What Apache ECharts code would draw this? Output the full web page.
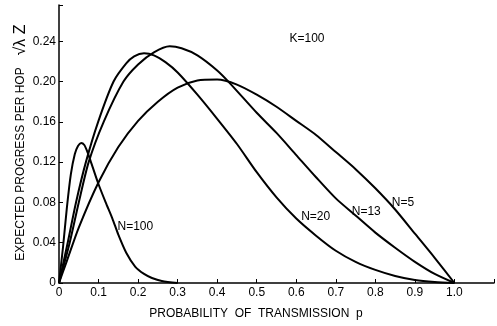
<!DOCTYPE html>
<html>
<head>
<meta charset="utf-8">
<script src="https://cdn.jsdelivr.net/npm/echarts@6/dist/echarts.min.js"></script>
<style>
  html, body { margin: 0; padding: 0; background: #fff; }
  #chart { width: 497px; height: 326px; }
</style>
</head>
<body>
<div id="chart"></div>
<script>
// values: [p, expected progress]
const curveN5 = [[0,0],[0.02,0.022],[0.05,0.055],[0.1,0.100],[0.15,0.135],[0.2,0.161],[0.25,0.180],[0.3,0.194],[0.35,0.201],[0.4,0.202],[0.45,0.197],[0.5,0.187],[0.55,0.175],[0.6,0.161],[0.65,0.147],[0.7,0.130],[0.75,0.113],[0.8,0.094],[0.85,0.073],[0.9,0.049],[0.95,0.025],[1.0,0]]
const curveN13 = [[0,0],[0.027,0.040],[0.05,0.080],[0.075,0.120],[0.113,0.160],[0.163,0.200],[0.2,0.217],[0.24,0.229],[0.28,0.235],[0.31,0.233],[0.35,0.226],[0.4,0.211],[0.433,0.198],[0.5,0.169],[0.55,0.149],[0.6,0.127],[0.65,0.105],[0.7,0.084],[0.75,0.067],[0.8,0.050],[0.85,0.035],[0.9,0.021],[0.95,0.009],[1.0,0]]
const curveN20 = [[0,0],[0.022,0.040],[0.043,0.080],[0.068,0.120],[0.099,0.160],[0.138,0.200],[0.17,0.218],[0.19,0.225],[0.215,0.228],[0.24,0.226],[0.27,0.219],[0.3,0.209],[0.35,0.187],[0.4,0.163],[0.45,0.138],[0.5,0.110],[0.55,0.085],[0.6,0.064],[0.65,0.047],[0.7,0.032],[0.75,0.021],[0.8,0.013],[0.85,0.007],[0.9,0.003],[0.95,0.001],[1.0,0]]
const curveN100 = [[0,0],[0.01,0.035],[0.02,0.075],[0.03,0.108],[0.04,0.128],[0.048,0.136],[0.056,0.139],[0.064,0.137],[0.072,0.130],[0.08,0.121],[0.099,0.099],[0.118,0.080],[0.135,0.064],[0.15,0.048],[0.17,0.030],[0.193,0.016],[0.215,0.009],[0.235,0.005],[0.26,0.002],[0.3,0]]
const xTicks = [0, 0.1, 0.2, 0.3, 0.4, 0.5, 0.6, 0.7, 0.8, 0.9, 1.0]
const yTicks = [0, 0.04, 0.08, 0.12, 0.16, 0.20, 0.24]
const curveNames = ['N=5', 'N=13', 'N=20', 'N=100']
const labelAt = [[0.870, 0.080], [0.777, 0.071], [0.649, 0.066], [0.193, 0.056]]

const font = 'Liberation Sans'
const chart = echarts.init(document.getElementById('chart'))

const near = (v, list) => list.some(t => Math.abs(t - v) < 1e-6)

const makeSeries = (data, i) => ({
  name: curveNames[i],
  type: 'line',
  data: data,
  smooth: 0.25,
  showSymbol: false,
  lineStyle: { color: '#000', width: 2 },
  z: 3,
  markPoint: {
    symbolSize: 0,
    silent: true,
    label: {
      show: true,
      position: 'inside',
      color: '#000',
      fontFamily: font,
      fontSize: 12,
      formatter: curveNames[i],
    },
    data: [{ coord: labelAt[i] }],
  },
})

const option = {
  animation: false,
  grid: { left: 59, right: 0, top: 5, bottom: 43 },
  xAxis: {
    type: 'value',
    min: 0,
    max: 1.1,
    interval: 0.1,
    splitLine: { show: false },
    axisLine: { lineStyle: { color: '#000', width: 1.5 } },
    axisTick: { inside: true, length: 4, lineStyle: { color: '#000' } },
    axisLabel: {
      color: '#000',
      fontFamily: font,
      fontSize: 12,
      margin: 4,
      formatter: v => near(v, xTicks) ? (v === 0 ? '0' : v.toFixed(1)) : '',
    },
    name: 'PROBABILITY  OF  TRANSMISSION  p',
    nameLocation: 'middle',
    nameGap: 25,
    nameTextStyle: { color: '#000', fontFamily: font, fontSize: 12, padding: [0, 0, 0, -41] },
  },
  yAxis: {
    type: 'value',
    min: 0,
    max: 0.276,
    interval: 0.04,
    splitLine: { show: false },
    axisLine: { lineStyle: { color: '#000', width: 1.5 } },
    axisTick: { inside: true, length: 4, lineStyle: { color: '#000' } },
    axisLabel: {
      color: '#000',
      fontFamily: font,
      fontSize: 12,
      margin: 3,
      formatter: v => near(v, yTicks) ? (v === 0 ? '0' : v.toFixed(2)) : '',
    },
  },
  graphic: [
    {
      type: 'text',
      x: 21, y: 164,
      rotation: Math.PI / 2,
      style: {
        text: 'EXPECTED PROGRESS PER HOP',
        fill: '#000', font: '12px ' + font,
        align: 'center', verticalAlign: 'middle',
      },
    },
    {
      type: 'text',
      x: 21, y: 40,
      rotation: Math.PI / 2,
      style: {
        text: '√λ Z',
        fill: '#000', font: '16px ' + font,
        align: 'center', verticalAlign: 'middle',
      },
    },
    {
      type: 'text',
      x: 307, y: 39,
      style: {
        text: 'K=100',
        fill: '#000', font: '12px ' + font,
        align: 'center', verticalAlign: 'middle',
      },
    },
  ],
  series: [curveN5, curveN13, curveN20, curveN100].map(makeSeries),
}

chart.setOption(option)
</script>
</body>
</html>
